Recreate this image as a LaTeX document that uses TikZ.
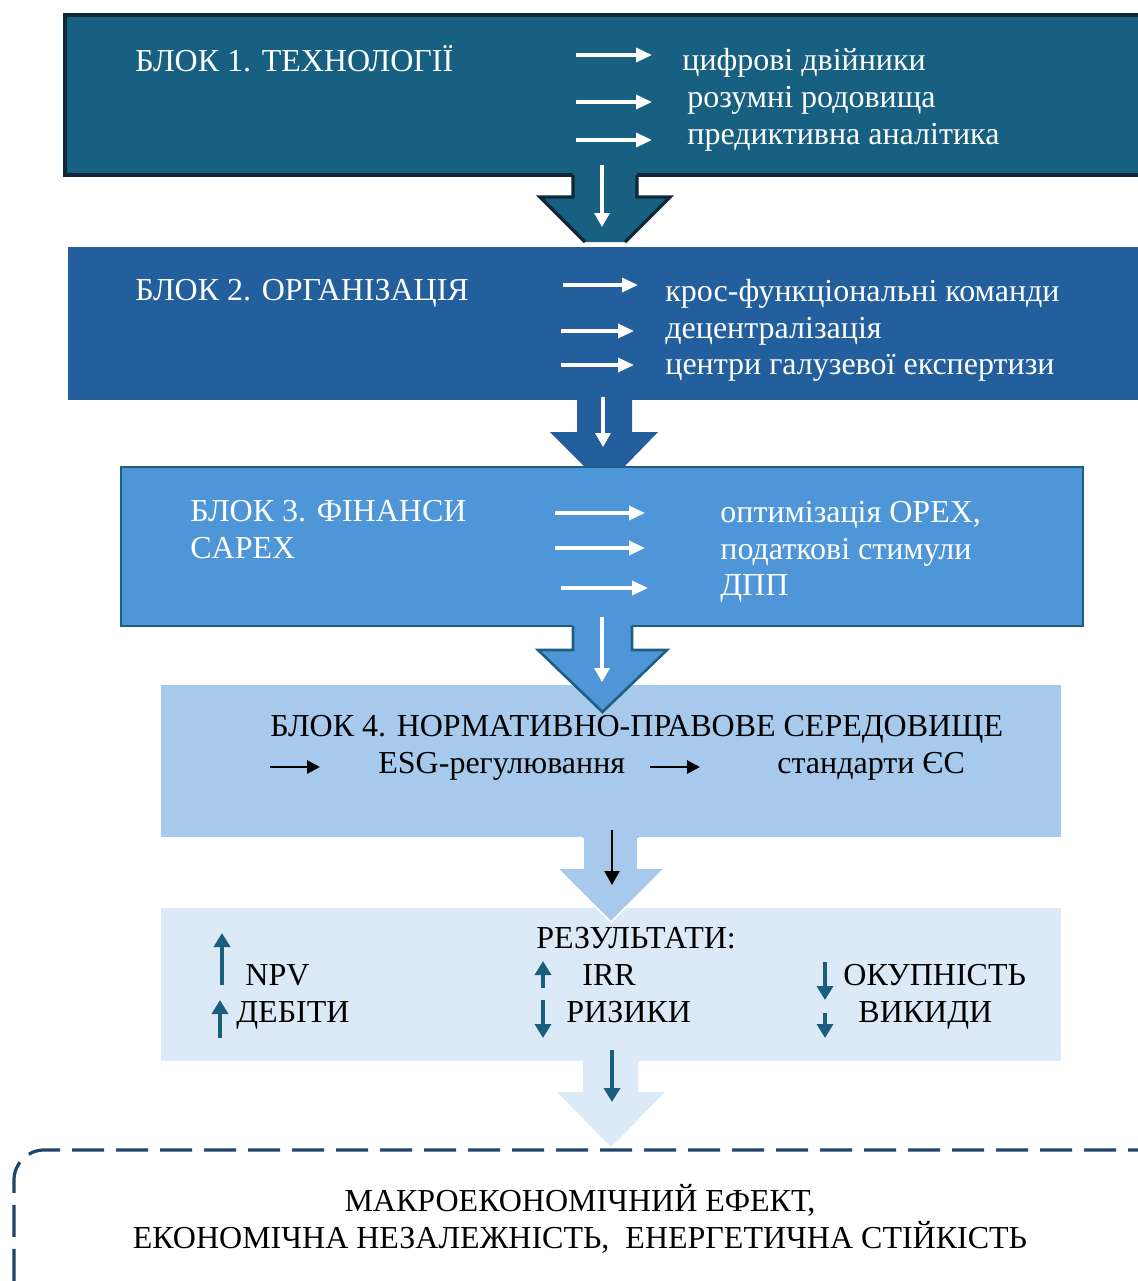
\documentclass[tikz,border=0pt]{standalone}
\usepackage{fontspec}
\setmainfont{Liberation Serif}
\usetikzlibrary{arrows.meta, positioning, calc}

\definecolor{tech}{RGB}{24,96,129}
\definecolor{techline}{RGB}{14,40,56}
\definecolor{org}{RGB}{34,95,156}
\definecolor{fin}{RGB}{79,150,217}
\definecolor{finline}{RGB}{30,94,128}
\definecolor{reg}{RGB}{166,201,236}
\definecolor{res}{RGB}{220,233,246}
\definecolor{resarrow}{RGB}{26,94,126}
\definecolor{macro}{RGB}{31,68,106}

\begin{document}
\begin{tikzpicture}[x=0.5pt, y=-0.5pt, font=\fontsize{16}{19}\selectfont,
    blk/.style={anchor=north west, inner sep=0pt, outer sep=0pt},
    lbl/.style={anchor=base west, inner sep=0pt},
    warr/.style={white, line width=1.7pt, -{Triangle[length=8pt, width=7pt]}},
    darr/.style={line width=1.6pt, -{Triangle[length=7pt, width=7.5pt]}},
    barr/.style={black, line width=1.4pt, -{Triangle[length=6.5pt, width=6.5pt]}},
    rarr/.style={resarrow, line width=2pt, -{Triangle[length=7pt, width=8pt]}}]
\useasboundingbox (0,0) rectangle (1137,1281);

% block 1
\node[blk, fill=tech, draw=techline, line width=1.6pt, minimum width=540pt, minimum height=80pt] (blk1) at (65,15) {};
\node[lbl, white] (t1) at (135,71) {БЛОК 1. ТЕХНОЛОГІЇ};
\coordinate (a11) at (576,55);
\coordinate (a12) at (576,102);
\coordinate (a13) at (576,140);
\draw[warr] (a11) -- ++(76,0);
\draw[warr] (a12) -- ++(76,0);
\draw[warr] (a13) -- ++(76,0);
\node[lbl, white] (l11) at (682,70) {цифрові двійники};
\node[lbl, white] (l12) at (687,107) {розумні родовища};
\node[lbl, white] (l13) at (687,144) {предиктивна аналітика};

% arrow 1 -> 2
\fill[tech] (573,172) -- (573,197) -- (540,197) -- (585,242) -- (625,242) -- (670,197) -- (637,197) -- (637,172) -- cycle;
\draw[techline, line width=1.6pt, line join=miter] (573,175) -- (573,197) -- (540,197) -- (585,242)
    (625,242) -- (670,197) -- (637,197) -- (637,175);
\coordinate (d1) at (602,165);
\draw[darr, white] (d1) -- ++(0,62);

% block 2
\node[blk, fill=org, minimum width=540pt, minimum height=76.5pt] (blk2) at (68,247) {};
\node[lbl, white] (t2) at (135,300) {БЛОК 2. ОРГАНІЗАЦІЯ};
\coordinate (a21) at (563,285);
\coordinate (a22) at (561,331);
\coordinate (a23) at (561,365);
\draw[warr] (a21) -- ++(75,0);
\draw[warr] (a22) -- ++(73,0);
\draw[warr] (a23) -- ++(73,0);
\node[lbl, white] (l21) at (665,301) {крос-функціональні команди};
\node[lbl, white] (l22) at (665,338) {децентралізація};
\node[lbl, white] (l23) at (665,374) {центри галузевої експертизи};

% arrow 2 -> 3
\fill[org] (577,398) -- (577,432) -- (550,432) -- (584,466) -- (625,466) -- (658,432) -- (632,432) -- (632,398) -- cycle;
\coordinate (d2) at (603,397);
\draw[darr, white] (d2) -- ++(0,50);

% block 3
\node[blk, fill=fin, draw=finline, line width=1pt, minimum width=481pt, minimum height=79.5pt] (blk3) at (121,467) {};
\node[lbl, white] (t3) at (190,521) {БЛОК 3. ФІНАНСИ};
\node[lbl, white] (t3b) at (190,558) {CAPEX};
\coordinate (a31) at (555,513);
\coordinate (a32) at (555,548);
\coordinate (a33) at (561,588);
\draw[warr] (a31) -- ++(90,0);
\draw[warr] (a32) -- ++(90,0);
\draw[warr] (a33) -- ++(87,0);
\node[lbl, white] (l31) at (720,522) {оптимізація OPEX,};
\node[lbl, white] (l32) at (720,559) {податкові стимули};
\node[lbl, white] (l33) at (720,595) {ДПП};

% block 4
\node[blk, fill=reg, minimum width=450pt, minimum height=76pt] (blk4) at (161,685) {};

% arrow 3 -> 4
\fill[fin] (573,624) -- (573,650) -- (538,650) -- (602.5,712) -- (667,650) -- (632,650) -- (632,624) -- cycle;
\draw[finline, line width=1.3pt, line join=miter] (573,626) -- (573,650) -- (538,650) -- (602.5,712) -- (667,650) -- (632,650) -- (632,626);
\coordinate (d3) at (602,617);
\draw[darr, white] (d3) -- ++(0,65);

\node[lbl] (t4) at (270,736) {БЛОК 4. НОРМАТИВНО-ПРАВОВЕ СЕРЕДОВИЩЕ};
\coordinate (a41) at (270,767);
\coordinate (a42) at (650,767);
\draw[barr] (a41) -- ++(50,0);
\draw[barr] (a42) -- ++(50,0);
\node[lbl] (l41) at (378,773) {ESG-регулювання};
\node[lbl] (l42) at (777,773) {стандарти ЄС};

% block 5
\node[blk, fill=res, minimum width=450pt, minimum height=76.5pt] (blk5) at (161,908) {};

% arrow 4 -> 5
\filldraw[fill=reg, draw=white, line width=0.8pt] (583,835) -- (583,868) -- (557,868) -- (611,922) -- (665,868) -- (638,868) -- (638,835) -- cycle;
\fill[reg] (582,834) rectangle (639,838);
\coordinate (d4) at (612,830);
\draw[darr, black, line width=1.2pt] (d4) -- ++(0,55);

\node[lbl] (t5) at (536,948) {РЕЗУЛЬТАТИ:};
\coordinate (r1) at (222,985);
\coordinate (r2) at (220,1038);
\coordinate (r3) at (543,988);
\coordinate (r4) at (543,1000);
\coordinate (r5) at (825,962);
\coordinate (r6) at (825,1013);
\draw[rarr] (r1) -- ++(0,-52);
\draw[rarr] (r2) -- ++(0,-38);
\draw[rarr] (r3) -- ++(0,-27);
\draw[rarr] (r4) -- ++(0,38);
\draw[rarr] (r5) -- ++(0,38);
\draw[rarr] (r6) -- ++(0,25);
\node[lbl] (npv) at (245,985) {NPV};
\node[lbl] (deb) at (236,1022) {ДЕБІТИ};
\node[lbl] (irr) at (582,985) {IRR};
\node[lbl] (riz) at (566,1022) {РИЗИКИ};
\node[lbl] (oku) at (843,985) {ОКУПНІСТЬ};
\node[lbl] (vyk) at (858,1022) {ВИКИДИ};

% arrow 5 -> macro
\fill[res] (583,1059) -- (583,1092) -- (557,1092) -- (611,1147) -- (665,1092) -- (638,1092) -- (638,1059) -- cycle;
\coordinate (d5) at (612,1050);
\draw[rarr] (d5) -- ++(0,52);

% macro effect
\draw[macro, line width=1.6pt, dash pattern=on 16pt off 6pt, rounded corners=15pt] (1160,1150) -- (14,1150) -- (14,1300);
\node[anchor=base, inner sep=0pt] (m1) at (580,1211) {МАКРОЕКОНОМІЧНИЙ ЕФЕКТ,};
\node[anchor=base, inner sep=0pt] (m2) at (580,1248) {ЕКОНОМІЧНА НЕЗАЛЕЖНІСТЬ,\ \ ЕНЕРГЕТИЧНА СТІЙКІСТЬ};

\end{tikzpicture}
\end{document}
